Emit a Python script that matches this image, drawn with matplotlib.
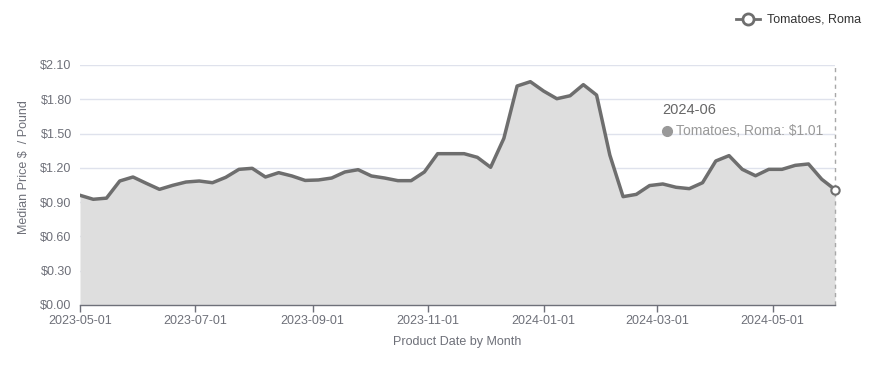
import matplotlib
matplotlib.use("Agg")
import matplotlib.pyplot as plt
import matplotlib.dates as mdates
import numpy as np
import pandas as pd

plt.rcParams['font.family'] = ['Liberation Sans', 'DejaVu Sans']

dates = pd.date_range("2023-05-01", periods=58, freq="7D")
prices = [0.96, 0.925, 0.935, 1.085, 1.12, 1.065, 1.012, 1.047, 1.076, 1.085,
          1.07, 1.117, 1.187, 1.196, 1.12, 1.158, 1.129, 1.09, 1.094, 1.111,
          1.164, 1.184, 1.129, 1.111, 1.088, 1.088, 1.164, 1.324, 1.324, 1.324,
          1.292, 1.205, 1.458, 1.916, 1.954, 1.872, 1.805, 1.831, 1.928, 1.837,
          1.312, 0.948, 0.968, 1.045, 1.059, 1.03, 1.018, 1.07, 1.26, 1.307,
          1.187, 1.131, 1.187, 1.187, 1.222, 1.234, 1.10, 1.01]
tick_dates = pd.to_datetime(["2023-05-01", "2023-07-01", "2023-09-01", "2023-11-01",
                             "2024-01-01", "2024-03-01", "2024-05-01"])
y_ticks = [0.0, 0.3, 0.6, 0.9, 1.2, 1.5, 1.8, 2.1]
series_name = "Tomatoes, Roma"

W, H = 872, 371
fig = plt.figure(figsize=(W / 100, H / 100), dpi=100)
ax = fig.add_axes([80 / W, 1 - 305 / H, 755 / W, 240 / H])

line_color = "#6e6e6e"
ax.fill_between(dates, prices, 0, color="#dedede", linewidth=0, zorder=1)
ax.axvline(dates[-1], color="#a8a8a8", linestyle=(0, (3, 3)), linewidth=1, zorder=2,
           clip_on=False)
ax.plot(dates, prices, color=line_color, linewidth=2.5, zorder=3)
ax.plot([dates[-1]], [prices[-1]], marker="o", markersize=6, markerfacecolor="white",
        markeredgecolor=line_color, markeredgewidth=1.5, zorder=4, clip_on=False)

ax.set_xlim(dates[0], dates[-1])
ax.set_ylim(0, 2.1)
ax.set_yticks(y_ticks)
ax.set_yticklabels([f"${v:.2f}" for v in y_ticks])
ax.set_xticks(tick_dates)
ax.xaxis.set_major_formatter(mdates.DateFormatter("%Y-%m-%d"))

ax.grid(axis="y", color="#dfe2ec", linewidth=1, zorder=0)
ax.set_axisbelow(True)
for s in ["top", "right", "left"]:
    ax.spines[s].set_visible(False)
ax.spines["bottom"].set_color("#6e7079")
ax.spines["bottom"].set_linewidth(1)
ax.spines["bottom"].set_zorder(5)
ax.tick_params(axis="y", length=0, pad=6, labelsize=9, labelcolor="#6e7079")
ax.tick_params(axis="x", length=5, width=1, color="#6e7079", pad=2, labelsize=9,
               labelcolor="#6e7079")

fig.text(24 / W, 1 - 167 / H, "Median Price $  / Pound", rotation=90, ha="center",
         va="center", fontsize=9, color="#6e7079")
fig.text(457 / W, 1 - 342 / H, "Product Date by Month", ha="center", va="center",
         fontsize=9, color="#6e7079")

# Legend (top right)
lx, ly = 748, 19
fig.lines.append(plt.Line2D([(lx - 12) / W, (lx + 12) / W], [1 - ly / H, 1 - ly / H],
                            transform=fig.transFigure, color=line_color, linewidth=2))
fig.lines.append(plt.Line2D([lx / W], [1 - ly / H], transform=fig.transFigure,
                            marker="o", markersize=8, markerfacecolor="white",
                            markeredgecolor=line_color, markeredgewidth=2, linestyle="none"))
fig.text(767 / W, 1 - ly / H, series_name, ha="left", va="center", fontsize=9, color="#333333")

# Tooltip-like annotation
fig.text(662 / W, 1 - 110 / H, "2024-06", ha="left", va="center", fontsize=10.5, color="#666666")
fig.lines.append(plt.Line2D([667 / W], [1 - 131 / H], transform=fig.transFigure,
                            marker="o", markersize=7, markerfacecolor="#999999",
                            markeredgecolor="#999999", linestyle="none"))
fig.text(676 / W, 1 - 131 / H, f"{series_name}: ${prices[-1]:.2f}", ha="left", va="center",
         fontsize=10, color="#999999")

fig.savefig("out.png", dpi=100)
